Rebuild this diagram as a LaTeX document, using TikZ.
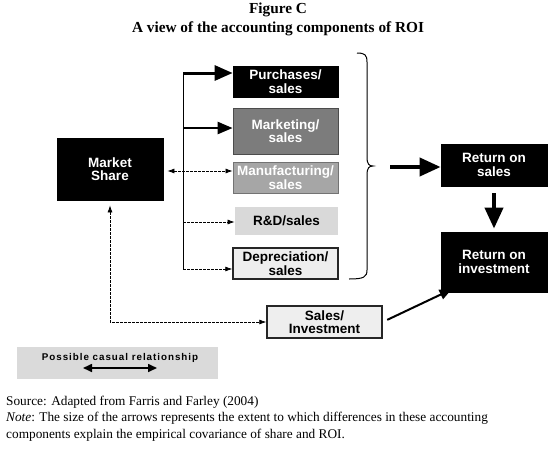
\documentclass[tikz,border=0pt]{standalone}
\usepackage{fontspec}
\setmainfont{Liberation Serif}
\newfontfamily\boxfont{Liberation Sans}
\newfontfamily\legfont[LetterSpace=10]{Liberation Sans}
\usetikzlibrary{arrows.meta}
\definecolor{mktgray}{HTML}{7C7C7C}
\definecolor{mangray}{HTML}{A6A6A6}
\definecolor{rdgray}{HTML}{D9D9D9}
\definecolor{lightbox}{HTML}{EEEEEE}
\definecolor{leggray}{HTML}{DADADA}
\begin{document}
\begin{tikzpicture}[x=1pt,y=-1pt,
  bx/.style={minimum width=105pt, align=center, inner sep=0pt, line width=0.8pt,
    font=\boxfont\bfseries\fontsize{13.5}{13.5}\selectfont},
  darkbx/.style={bx, fill=black, draw=black, text=white},
  bigarr/.style={line width=3pt, -{Triangle[length=18pt,width=15pt]}},
  midarr/.style={line width=2.4pt, -{Triangle[length=15pt,width=12pt]}},
  hugearr/.style={line width=4pt, -{Triangle[length=21pt,width=18pt]}},
  thinarr/.style={line width=2pt, -{Triangle[length=12pt,width=10pt]}},
  dasharr/.style={line width=0.7pt, dash pattern=on 2.5pt off 1.5pt, -{Latex[length=7pt,width=5pt]}},
  dashdbl/.style={line width=0.7pt, dash pattern=on 2.5pt off 1.5pt, {Latex[length=7pt,width=5pt]}-{Latex[length=7pt,width=5pt]}},
  txt/.style={inner sep=0pt, font=\fontsize{13.3}{15}\selectfont}
]
\useasboundingbox (0,0) rectangle (552,450);
\fill[white] (0,0) rectangle (552,450);

% titles
\node[inner sep=0pt, anchor=base, font=\bfseries\fontsize{15.3}{17}\selectfont] (t1) at (278,13) {Figure C};
\node[inner sep=0pt, anchor=base, font=\bfseries\fontsize{15.3}{17}\selectfont] (t2) at (278,32) {A view of the accounting components of ROI};

% boxes
\node[darkbx, minimum width=106pt, minimum height=62pt] (ms) at (110,169) {Market\\Share};
\node[darkbx, minimum height=31pt] (pur) at (285.5,81.5) {Purchases/\\sales};
\node[bx, fill=mktgray, draw=black!70, text=white, minimum height=46pt] (mkt) at (285.5,131) {Marketing/\\sales};
\node[bx, fill=mangray, draw=black!55, text=white, minimum height=31pt] (man) at (285.5,177.5) {Manufacturing/\\sales};
\node[bx, fill=rdgray, minimum width=103pt, minimum height=28pt] (rd) at (286.5,221) {R\&D/sales};
\node[bx, fill=lightbox, draw=black!85, line width=1.4pt, minimum height=31pt] (dep) at (285.5,263.5) {Depreciation/\\sales};
\node[darkbx, minimum width=106pt, minimum height=42pt] (ros) at (494,165) {Return on\\sales};
\node[darkbx, minimum width=106pt, minimum height=60pt] (roi) at (494,262) {Return on\\investment};
\node[bx, fill=lightbox, draw=black!85, line width=1.4pt, minimum width=115pt, minimum height=32pt] (si) at (324.5,322) {Sales/\\Investment};

% vertical distributor line
\coordinate (vtop) at (183,73);
\coordinate (vmkt) at (183,128);
\coordinate (vrd) at (183,222);
\coordinate (vbot) at (183,269);
\draw[line width=1pt] (vtop) -- (vbot);
\draw[bigarr] (vtop) -- (pur.west |- vtop);
\draw[midarr] (vmkt) -- (mkt.west |- vmkt);
\draw[dasharr] (vrd) -- (rd.west |- vrd);
\draw[dasharr] (vbot) -- (dep.west |- vbot);
\draw[dashdbl, shorten <=4pt] (ms.east |- 0,171) -- (man.west |- 0,171);

% bracket
\draw[line width=1pt] (357,53) .. controls (365,53) and (367,55) .. (367,62) -- (367,157)
  .. controls (367,164) and (369,166) .. (373,166)
  .. controls (369,166) and (367,168) .. (367,175) -- (367,270)
  .. controls (367,277) and (364,279) .. (349,279);
\coordinate (btip) at (390,167);
\draw[hugearr] (btip) -- (ros.west |- btip);
\draw[hugearr, shorten <=7pt, shorten >=3pt] (ros.south) -- (roi.north);
\draw[thinarr, shorten <=5pt] (si.east) -- ([xshift=11pt,yshift=3pt]roi.south west);
\draw[dashdbl, shorten <=5pt] (ms.south) |- (si.west);

% legend
\fill[leggray] (17,347) rectangle (218,379);
\node[inner sep=0pt, anchor=base, font=\legfont\bfseries\fontsize{9.8}{11}\selectfont] (lt) at (120,360.5) {Possible casual relationship};
\coordinate (la) at (83,368);
\coordinate (lb) at (157,368);
\draw[line width=1.6pt, {Triangle[length=9pt,width=8pt]}-{Triangle[length=9pt,width=8pt]}] (la) -- (lb);

% footer
\node[txt, anchor=base west] (f1) at (6,405) {Source: Adapted from Farris and Farley (2004)};
\node[txt, anchor=base west] (f2) at (6,421.5) {\textit{Note}: The size of the arrows represents the extent to which differences in these accounting};
\node[txt, anchor=base west] (f3) at (6,438) {components explain the empirical covariance of share and ROI.};
\end{tikzpicture}
\end{document}
